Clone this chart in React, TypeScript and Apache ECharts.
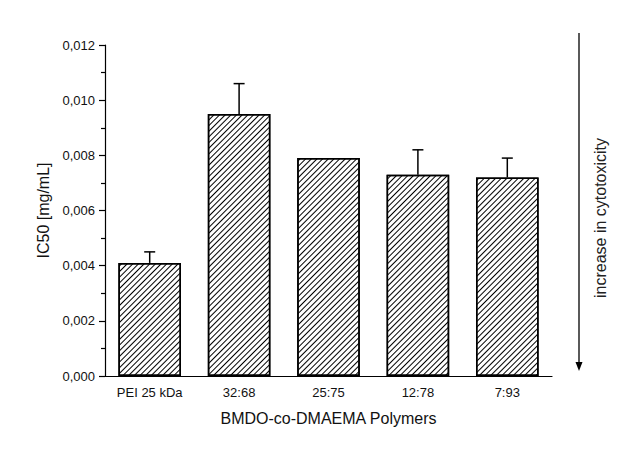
import { useEffect, useRef } from 'react';
import * as echarts from 'echarts';

const categories = ['PEI 25 kDa', '32:68', '25:75', '12:78', '7:93'];
const ic50 = [0.0041, 0.0095, 0.0079, 0.0073, 0.0072];
const errUpper = [0.0004, 0.0011, 0, 0.0009, 0.0007];

const FONT = "'Liberation Sans', Arial, sans-serif";
const fmt = (v: number) => v.toFixed(3).replace('.', ',');

const App = () => {
  const chartDom = useRef<HTMLDivElement | null>(null);

  useEffect(() => {
    if (!chartDom.current) return;
    const myChart = echarts.init(chartDom.current, undefined, { renderer: 'svg' });

    const option = {
      animation: false,
      backgroundColor: '#fff',
      textStyle: { fontFamily: FONT },
      grid: { left: 105, right: 92, top: 45, bottom: 85 },
      xAxis: [
        {
          type: 'category',
          data: categories,
          name: 'BMDO-co-DMAEMA Polymers',
          nameLocation: 'middle',
          nameGap: 34,
          nameTextStyle: { fontSize: 16, color: '#111', fontFamily: FONT },
          axisLine: { lineStyle: { color: '#000', width: 1.2 } },
          axisTick: { length: 3, lineStyle: { color: '#000', width: 1.2 } },
          axisLabel: { fontSize: 13, color: '#111', margin: 10, fontFamily: FONT },
        },
        {
          type: 'category',
          data: categories,
          position: 'bottom',
          axisLine: { show: false },
          axisLabel: { show: false },
          axisTick: { alignWithLabel: true, length: 5, lineStyle: { color: '#000', width: 1.2 } },
        },
      ],
      yAxis: {
        type: 'value',
        min: 0,
        max: 0.012,
        interval: 0.002,
        name: 'IC50 [mg/mL]',
        nameLocation: 'middle',
        nameGap: 52,
        nameTextStyle: { fontSize: 16, color: '#111', fontFamily: FONT },
        axisLine: { show: true, lineStyle: { color: '#000', width: 1.2 } },
        axisTick: { show: true, length: 6, lineStyle: { color: '#000', width: 1.2 } },
        minorTick: { show: true, splitNumber: 2, length: 4, lineStyle: { color: '#000', width: 1.2 } },
        splitLine: { show: false },
        axisLabel: { fontSize: 13, color: '#111', margin: 10, fontFamily: FONT, formatter: fmt },
      },
      series: [
        {
          type: 'bar',
          data: ic50,
          barWidth: '70%',
          itemStyle: {
            color: '#fff',
            borderColor: '#000',
            borderWidth: 1.5,
            decal: {
              symbol: 'rect',
              symbolSize: 1,
              color: '#000',
              dashArrayX: [1, 0],
              dashArrayY: [0.9, 2.4],
              rotation: -Math.PI / 4,
            },
          },
        },
        {
          type: 'custom',
          data: ic50.map((v, i) => [i, v, v + errUpper[i]]),
          z: 5,
          renderItem: (params: any, api: any) => {
            const i = api.value(0);
            if (!errUpper[i]) return null;
            const base = api.coord([i, api.value(1)]);
            const top = api.coord([i, api.value(2)]);
            const half = 5.5;
            const style = { stroke: '#000', lineWidth: 1.5 };
            return {
              type: 'group',
              children: [
                { type: 'line', shape: { x1: base[0], y1: base[1], x2: top[0], y2: top[1] }, style },
                { type: 'line', shape: { x1: top[0] - half, y1: top[1], x2: top[0] + half, y2: top[1] }, style },
              ],
            };
          },
        },
      ],
      graphic: [
        { type: 'line', shape: { x1: 579, y1: 33, x2: 579, y2: 364 }, style: { stroke: '#000', lineWidth: 1.3 } },
        { type: 'polygon', shape: { points: [[575.5, 362], [582.5, 362], [579, 371]] }, style: { fill: '#000' } },
        {
          type: 'text',
          x: 600,
          y: 218,
          rotation: Math.PI / 2,
          style: {
            text: 'increase in cytotoxicity',
            fontSize: 16,
            fontFamily: FONT,
            fill: '#222',
            align: 'center',
            verticalAlign: 'middle',
          },
        },
      ],
    };

    myChart.setOption(option);
    return () => {
      myChart.dispose();
    };
  }, []);

  return <div ref={chartDom} style={{ width: 644, height: 461, margin: -8 }} />;
};

export default App;
